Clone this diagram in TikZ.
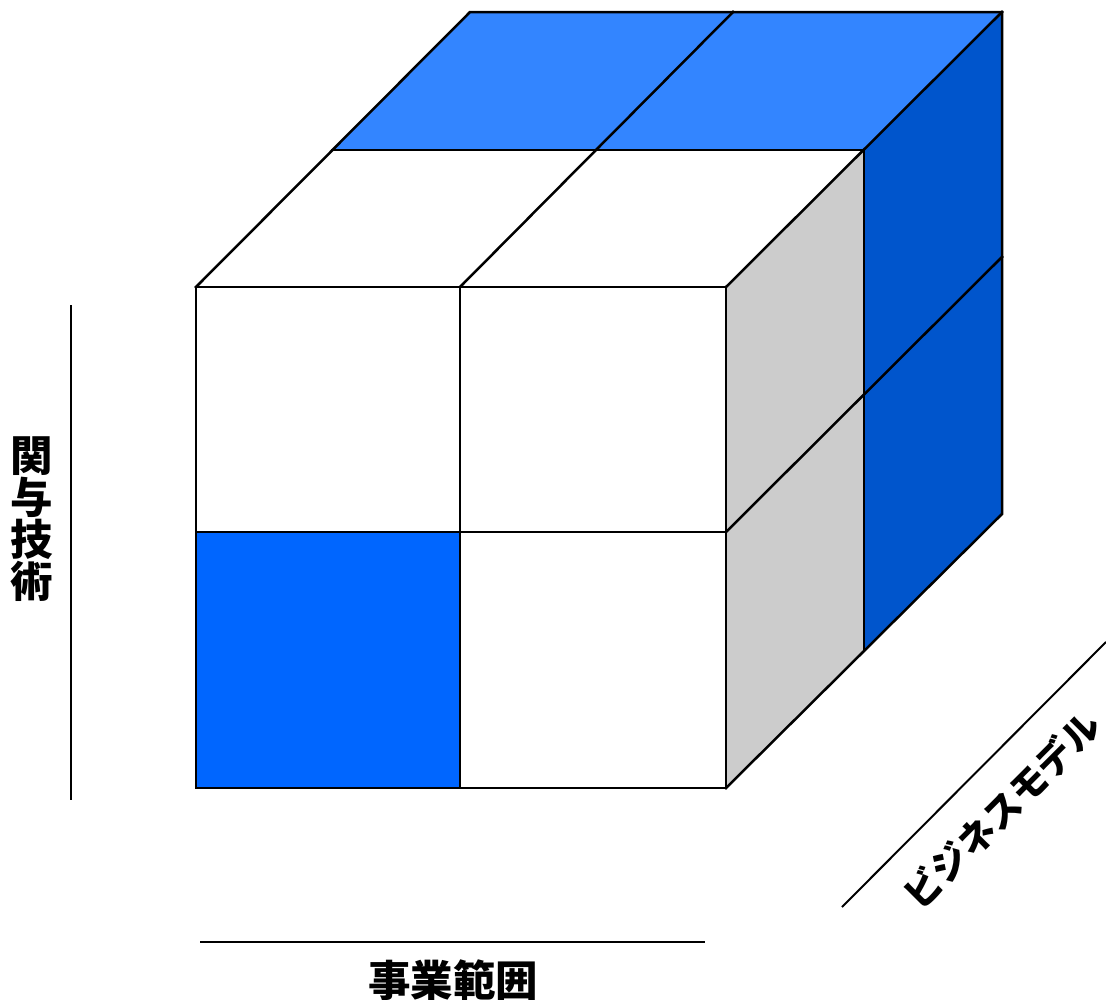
\documentclass[tikz,border=0pt]{standalone}
\usepackage{fontspec}
\newfontfamily\jp{Noto Sans CJK JP}
\definecolor{topblue}{HTML}{3385FF}
\definecolor{frontblue}{HTML}{0066FF}
\definecolor{sideblue}{HTML}{0055CC}
\definecolor{sidegray}{HTML}{CCCCCC}
\tikzset{
  edge/.style={line width=2.5pt, line join=miter, line cap=rect},
  axis/.style={line width=2pt},
  lbl/.style={font=\jp\bfseries\fontsize{42.5}{42}\selectfont, inner sep=0pt},
  klbl/.style={font=\jp\bfseries\fontsize{37}{40}\selectfont, inner sep=0pt}
}
\begin{document}
\begin{tikzpicture}[x=1pt,y=-1pt]
\useasboundingbox (0,0) rectangle (1106,999);
% fills
\fill[white] (196,287) rectangle (726,788);
\fill[frontblue] (196,532) rectangle (460,788);
\fill[white] (196,287) -- (470,12) -- (1002,12) -- (726,287) -- cycle;
\fill[topblue] (332,150) -- (470,12) -- (1002,12) -- (864,150) -- cycle;
\fill[sidegray] (726,287) -- (864,150) -- (864,651) -- (726,788) -- cycle;
\fill[sideblue] (864,150) -- (1002,12) -- (1002,514) -- (864,651) -- cycle;
% edges
\draw[edge] (196,287) rectangle (726,788);
\draw[edge] (460,287) -- (460,788);
\draw[edge] (196,532) -- (726,532);
\draw[edge] (196,287) -- (470,12) -- (1002,12) -- (1002,514) -- (726,788);
\draw[edge] (726,287) -- (1002,12);
\draw[edge] (460,287) -- (733,12);
\draw[edge] (332,150) -- (864,150) -- (864,651);
\draw[edge] (726,532) -- (1002,257);
% axes
\coordinate (va) at (71,305);
\coordinate (vb) at (71,800);
\draw[axis] (va) -- (vb);
\coordinate (ha) at (200,942);
\coordinate (hb) at (705,942);
\draw[axis] (ha) -- (hb);
\coordinate (da) at (842,907);
\coordinate (db) at (1106,642);
\draw[axis] (da) -- (db);
% labels
\node[lbl, align=center] (tech) at (32,519) {関\\与\\技\\術};
\node[lbl] (scope) at (453,980) {事業範囲};
\node[klbl, rotate=45] (model) at (1002,810) {ビジネスモデル};
\end{tikzpicture}
\end{document}
